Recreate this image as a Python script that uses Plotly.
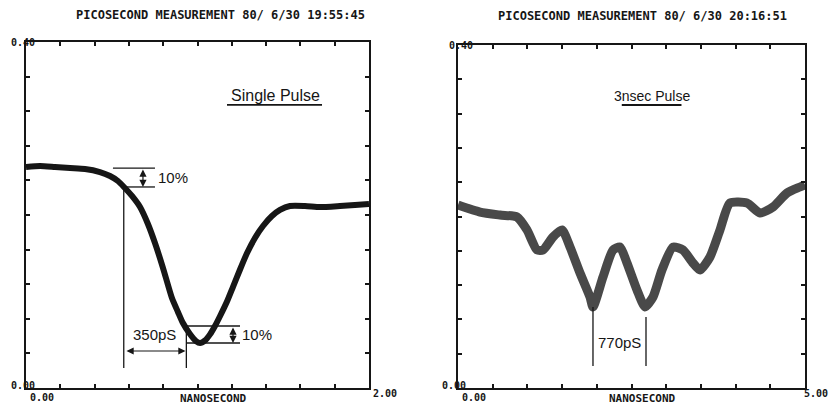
import plotly.graph_objects as go

# ---- data ----
single_x = [0.000, 0.082, 0.169, 0.257, 0.344, 0.431, 0.490, 0.536, 0.571, 0.618,
            0.665, 0.711, 0.752, 0.799, 0.851, 0.886, 0.915, 0.956, 0.991, 1.015,
            1.044, 1.073, 1.102, 1.131, 1.172, 1.207, 1.248, 1.289, 1.335, 1.382,
            1.434, 1.481, 1.539, 1.627, 1.714, 1.831, 1.918, 2.000]
single_y = [0.2555, 0.2566, 0.2555, 0.2543, 0.2532, 0.2497, 0.2451, 0.2393, 0.2324, 0.2220,
            0.2092, 0.1896, 0.1676, 0.1387, 0.1040, 0.0879, 0.0751, 0.0624, 0.0543, 0.0520,
            0.0550, 0.0620, 0.0717, 0.0830, 0.1000, 0.1170, 0.1370, 0.1560, 0.1734, 0.1873,
            0.1988, 0.2058, 0.2104, 0.2104, 0.2092, 0.2104, 0.2116, 0.2127]

triple_x = [0.000, 0.317, 0.605, 0.850, 0.994, 1.138, 1.225, 1.369, 1.499, 1.614,
            1.758, 1.902, 1.945, 2.089, 2.233, 2.334, 2.435, 2.579, 2.695, 2.810,
            2.939, 3.098, 3.242, 3.386, 3.487, 3.631, 3.775, 3.919, 4.164, 4.352,
            4.539, 4.741, 4.928, 5.000]
triple_y = [0.2134, 0.2052, 0.2017, 0.1994, 0.1843, 0.1609, 0.1609, 0.1761, 0.1843, 0.1644,
            0.1341, 0.1061, 0.0945, 0.1294, 0.1609, 0.1644, 0.1458, 0.1143, 0.0945, 0.1061,
            0.1376, 0.1644, 0.1609, 0.1458, 0.1376, 0.1528, 0.1843, 0.2157, 0.2157, 0.2041,
            0.2111, 0.2274, 0.2344, 0.2370]

left_title = "PICOSECOND MEASUREMENT 80/ 6/30 19:55:45"
right_title = "PICOSECOND MEASUREMENT 80/ 6/30 20:16:51"
x_label = "NANOSECOND"
left_x_range = [0.0, 2.0]
right_x_range = [0.0, 5.0]
y_range = [0.0, 0.40]
left_xticks = [i * 0.2 for i in range(11)]
right_xticks = [i * 0.5 for i in range(11)]
yticks = [i * 0.04 for i in range(11)]

INK = "#161616"
MONO = "DejaVu Sans Mono"
HAND = "Liberation Sans"

# page has an 8px body margin: figure occupies 8..832 x 8..405 of the window
OX, OY = 8, 8
W, H = 824, 397

def px(x):
    return (x - OX) / W

def py(y):
    return 1 - (y - OY) / H

fig = go.Figure()
fig.add_trace(go.Scatter(x=single_x, y=single_y, mode="lines",
                         line=dict(color=INK, width=6, shape="spline", smoothing=0.6),
                         xaxis="x", yaxis="y", hoverinfo="skip"))
fig.add_trace(go.Scatter(x=triple_x, y=triple_y, mode="lines",
                         line=dict(color="#2a2a2a", width=9, shape="spline", smoothing=0.6),
                         opacity=0.85, xaxis="x2", yaxis="y2", hoverinfo="skip"))

def axis(domain, rng, tickvals, anchor):
    return dict(domain=domain, range=rng, tickvals=tickvals, ticktext=[""] * len(tickvals),
                showgrid=False, zeroline=False, showline=True, linecolor=INK, linewidth=2,
                mirror="ticks", ticks="inside", ticklen=4, tickwidth=1.5, tickcolor=INK,
                anchor=anchor, fixedrange=True)

fig.update_layout(
    width=W, height=H, margin=dict(l=0, r=0, t=0, b=0),
    paper_bgcolor="white", plot_bgcolor="white", showlegend=False,
    xaxis=axis([px(26), px(369)], left_x_range, left_xticks, "y"),
    yaxis=axis([py(388), py(42)], y_range, yticks, "x"),
    xaxis2=axis([px(458), px(805)], right_x_range, right_xticks, "y2"),
    yaxis2=axis([py(388), py(45)], y_range, yticks, "x2"),
)

ann = []
def ptext(x, y, text, size=12, xanchor="center", font=MONO):
    ann.append(dict(x=px(x), y=py(y), xref="paper", yref="paper", text=text,
                    showarrow=False, xanchor=xanchor, yanchor="middle",
                    font=dict(family=font, size=size, color=INK)))

# titles and axis labels
ptext(220, 15, "<b>" + left_title + "</b>", 12)
ptext(642, 16, "<b>" + right_title + "</b>", 12)
ptext(213, 398, "<b>" + x_label + "</b>", 11)
ptext(642, 398, "<b>" + x_label + "</b>", 11)
ptext(9, 42, "<b>0.40</b>", 10, "left")
ptext(9, 385, "<b>0.00</b>", 10, "left")
ptext(28, 397, "<b>0.00</b>", 10, "left")
ptext(371, 393, "<b>2.00</b>", 10, "left")
ptext(447, 45, "<b>0.40</b>", 10, "left")
ptext(440, 385, "<b>0.00</b>", 10, "left")
ptext(460, 397, "<b>0.00</b>", 10, "left")
ptext(802, 393, "<b>5.00</b>", 10, "left")

def dtext(x, y, text, xr, yr, size=15, xanchor="center"):
    ann.append(dict(x=x, y=y, xref=xr, yref=yr, text=text, showarrow=False,
                    xanchor=xanchor, yanchor="middle",
                    font=dict(family=HAND, size=size, color=INK)))

def darrow(x0, y0, x1, y1, xr, yr):
    ann.append(dict(x=x1, y=y1, ax=x0, ay=y0, xref=xr, yref=yr, axref=xr, ayref=yr,
                    text="", showarrow=True, arrowhead=2, startarrowhead=2,
                    arrowside="end+start", arrowsize=1.2, arrowwidth=1.2, arrowcolor=INK))

# left annotations
dtext(1.452, 0.3387, "Single Pulse", "x", "y", 16)
dtext(0.76, 0.2435, "10%", "x", "y", 15, "left")
dtext(0.752, 0.0613, "350pS", "x", "y", 15)
dtext(1.25, 0.0624, "10%", "x", "y", 15, "left")
darrow(0.682, 0.2543, 0.682, 0.2324, "x", "y")
darrow(0.577, 0.0428, 0.930, 0.0428, "x", "y")
darrow(1.207, 0.0717, 1.207, 0.0520, "x", "y")

# right annotations
dtext(2.80, 0.3405, "3nsec Pulse", "x2", "y2", 14)
dtext(2.32, 0.0536, "770pS", "x2", "y2", 15)

shapes = []
def seg(x0, y0, x1, y1, xr, yr, w=1.3):
    shapes.append(dict(type="line", x0=x0, y0=y0, x1=x1, y1=y1, xref=xr, yref=yr,
                       line=dict(color=INK, width=w)))

seg(0.507, 0.2543, 0.752, 0.2543, "x", "y")
seg(0.570, 0.2324, 0.752, 0.2324, "x", "y")
seg(0.570, 0.2324, 0.570, 0.023, "x", "y")
seg(0.935, 0.0717, 0.935, 0.023, "x", "y")
seg(0.935, 0.0717, 1.248, 0.0717, "x", "y")
seg(0.935, 0.0520, 1.248, 0.0520, "x", "y")
seg(1.172, 0.3272, 1.726, 0.3272, "x", "y", 1.8)

seg(1.945, 0.0945, 1.945, 0.0257, "x2", "y2")
seg(2.709, 0.0828, 2.709, 0.0257, "x2", "y2")
seg(2.36, 0.330, 3.22, 0.330, "x2", "y2", 1.8)

fig.update_layout(annotations=ann, shapes=shapes)
fig.write_html("out.html")
